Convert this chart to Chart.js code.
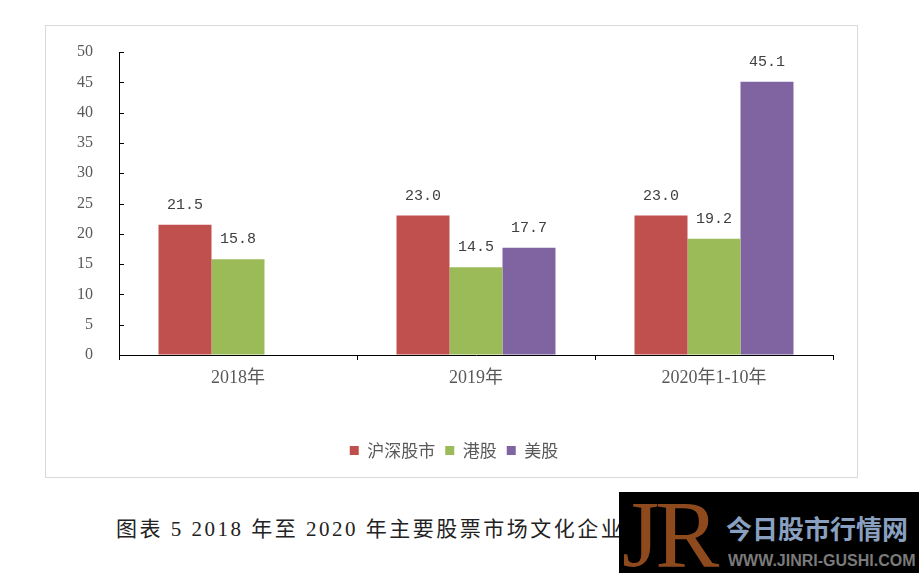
<!DOCTYPE html>
<html>
<head>
<meta charset="utf-8">
<script src="https://cdn.jsdelivr.net/npm/chart.js@4.4.0/dist/chart.umd.min.js"></script>
<style>
  body { margin: 0; background: #fff; width: 919px; height: 573px; position: relative; overflow: hidden; }
  #box { position: absolute; left: 45px; top: 25px; width: 811px; height: 451px; border: 1px solid #d9d9d9; }
  #caption { position: absolute; left: 116px; top: 512px; font-family: "Liberation Serif", "Noto Sans CJK SC", serif; font-size: 21px; letter-spacing: 2.5px; color: #222; white-space: nowrap; }
  #mark { position: absolute; left: 619px; top: 492px; width: 300px; height: 81px; background: #000; }
  #mark .jr { position: absolute; left: 3px; top: -13px; font-family: "Liberation Serif", serif; font-size: 96px; color: #8e4a1c; letter-spacing: -4px; }
  #mark .cn { position: absolute; left: 107px; top: 18px; font-family: "Noto Sans CJK SC", sans-serif; font-weight: bold; font-size: 26px; line-height: 36px; color: #8aa0c0; }
  #mark .url { position: absolute; left: 109px; top: 59px; font-family: "Liberation Sans", sans-serif; font-weight: bold; font-size: 16px; line-height: 20px; color: #7a7a7a; white-space: nowrap; }
</style>
</head>
<body>
<div id="box"><canvas id="grafico" width="811" height="451"></canvas></div>
<div id="caption">图表 5 2018 年至 2020 年主要股票市场文化企业</div>
<div id="mark"><span class="jr">JR</span><span class="cn">今日股市行情网</span><span class="url">WWW.JINRI-GUSHI.COM</span></div>
<script>
var anos = ["2018年", "2019年", "2020年1-10年"];
var huShen = [21.5, 23.0, 23.0];
var gangGu = [15.8, 14.5, 19.2];
var meiGu = [null, 17.7, 45.1];

// rotulos de valor acima das barras e tracos do eixo y para dentro
var rotulos = {
    id: "rotulos",
    afterLayout: function (chart) {
        // centraliza a legenda no quadro inteiro
        chart.legend.left += 5;
        chart.legend.right = chart.width;
    },
    afterDatasetsDraw: function (chart) {
        var ctx = chart.ctx;
        ctx.save();
        ctx.font = "15px 'Liberation Mono'";
        ctx.fillStyle = "#404040";
        ctx.textAlign = "center";
        ctx.textBaseline = "middle";
        chart.data.datasets.forEach(function (ds, i) {
            chart.getDatasetMeta(i).data.forEach(function (bar, j) {
                if (ds.data[j] == null) return;
                ctx.fillText(ds.data[j].toFixed(1), bar.x, bar.y - 20);
            });
        });
        var y = chart.scales.y;
        ctx.strokeStyle = "#000";
        ctx.lineWidth = 1;
        ctx.beginPath();
        y.ticks.forEach(function (t, k) {
            var py = Math.round(y.getPixelForTick(k)) + 0.5;
            ctx.moveTo(y.right, py);
            ctx.lineTo(y.right + 5, py);
        });
        ctx.stroke();
        ctx.restore();
    }
};

var referencia = document.querySelector("#grafico").getContext("2d");

var grafico = new Chart(referencia, {
    type: 'bar',
    data: {
        labels: anos,
        datasets: [{
            label: "沪深股市",
            backgroundColor: "#C0504D",
            data: huShen
        }, {
            label: "港股",
            backgroundColor: "#9BBB59",
            data: gangGu
        }, {
            label: "美股",
            backgroundColor: "#8064A2",
            data: meiGu
        }]
    },
    plugins: [rotulos],
    options: {
        responsive: false,
        animation: false,
        layout: { padding: { top: 26, right: 24, bottom: 8, left: 0 } },
        datasets: { bar: { barPercentage: 1, categoryPercentage: 0.668 } },
        scales: {
            x: {
                afterFit: function (s) { s.height = 77; },
                border: { color: "#000", width: 1 },
                grid: { drawOnChartArea: false, tickLength: 5, color: "#000", offset: true },
                ticks: { padding: 7, color: "#595959", font: { family: "'Liberation Serif', 'Noto Sans CJK SC'", size: 18 } }
            },
            y: {
                min: 0,
                max: 50,
                afterFit: function (s) { s.width = 73; },
                border: { color: "#000", width: 1 },
                grid: { drawOnChartArea: false, tickLength: 26, tickColor: "rgba(0,0,0,0)" },
                ticks: { stepSize: 5, padding: 0, color: "#595959", font: { family: "'Liberation Serif'", size: 16 } }
            }
        },
        plugins: {
            tooltip: { enabled: false },
            legend: {
                position: "bottom",
                labels: {
                    boxWidth: 9,
                    boxHeight: 9,
                    padding: 10,
                    color: "#595959",
                    font: { family: "'Noto Sans CJK SC'", size: 17 }
                }
            }
        }
    }
});
</script>
</body>
</html>
